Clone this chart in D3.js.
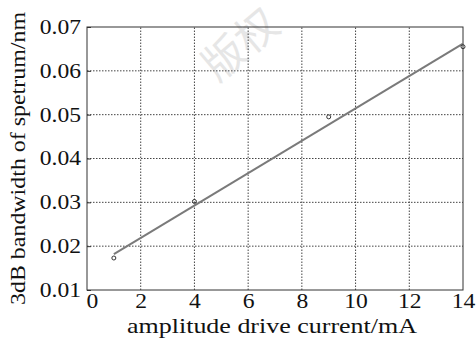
<!DOCTYPE html>
<html>
<head>
<meta charset="utf-8">
<script src="https://cdn.jsdelivr.net/npm/d3@7"></script>
<style>
  html, body { margin: 0; padding: 0; background: #fff; }
  svg { display: block; }
</style>
</head>
<body>
<svg id="chart" width="476" height="338"></svg>
<script>
// measured points
const currents = [1, 4, 9, 14]
const bandwidths = [0.0173, 0.0302, 0.0495, 0.0655]
// linear fit line end points (as drawn)
const fitX = [1, 14]
const fitY = [0.0182, 0.0662]

const xTicks = [0, 2, 4, 6, 8, 10, 12, 14]
const yTicks = [0.01, 0.02, 0.03, 0.04, 0.05, 0.06, 0.07]

const W = 476, H = 338
const margin = { left: 87, right: 13, top: 27, bottom: 48 }
const serif = '"Liberation Serif", serif'
// the source figure is stretched a bit horizontally
const stretch = 1.18

const svg = d3.select('#chart')

// faint watermark behind the plot
svg.append('text')
  .attr('transform', 'translate(250,56) rotate(-40)')
  .attr('text-anchor', 'middle')
  .style('font-family', '"Noto Sans CJK SC", sans-serif')
  .style('font-size', '42px')
  .style('fill', '#e6e6e6')
  .text('版权')

const x = d3.scaleLinear().domain([0, 14]).range([margin.left, W - margin.right])
const y = d3.scaleLinear().domain([0.01, 0.07]).range([H - margin.bottom, margin.top])

const g = svg.append('g')

// grid
g.selectAll('line.vgrid')
  .data(xTicks.slice(1, -1))
  .enter().append('line')
  .attr('class', 'vgrid')
  .attr('x1', d => x(d)).attr('x2', d => x(d))
  .attr('y1', y(0.01)).attr('y2', y(0.07))
  .attr('stroke', '#444')
  .attr('stroke-width', 1)
  .attr('stroke-dasharray', '1.5,1.5')

g.selectAll('line.hgrid')
  .data(yTicks.slice(1, -1))
  .enter().append('line')
  .attr('class', 'hgrid')
  .attr('x1', x(0)).attr('x2', x(14))
  .attr('y1', d => y(d)).attr('y2', d => y(d))
  .attr('stroke', '#444')
  .attr('stroke-width', 1)
  .attr('stroke-dasharray', '1.5,1.5')

// frame
g.append('rect')
  .attr('x', x(0)).attr('y', y(0.07))
  .attr('width', x(14) - x(0)).attr('height', y(0.01) - y(0.07))
  .attr('fill', 'none')
  .attr('stroke', '#333')
  .attr('stroke-width', 1)

function styleTicks(sel) {
  sel.selectAll('text')
    .style('font-family', serif)
    .style('font-size', '20px')
    .style('fill', '#111')
    .each(function () {
      const len = this.getComputedTextLength()
      d3.select(this).attr('textLength', len * stretch).attr('lengthAdjust', 'spacingAndGlyphs')
    })
}

// axes
const xAxis = g.append('g')
  .attr('transform', `translate(0,${y(0.01)})`)
  .call(d3.axisBottom(x).tickValues(xTicks).tickSize(0).tickPadding(4).tickFormat(d3.format('d')))
xAxis.select('.domain').remove()
styleTicks(xAxis)
xAxis.selectAll('.tick').filter(d => d === 0).select('text').attr('dx', 5)

const yAxis = g.append('g')
  .attr('transform', `translate(${x(0)},0)`)
  .call(d3.axisLeft(y).tickValues(yTicks).tickSize(4).tickPadding(2).tickFormat(d3.format('.2f')))
yAxis.select('.domain').remove()
yAxis.selectAll('line').attr('x2', 4).attr('stroke', '#333')
styleTicks(yAxis)

// fit line
g.append('path')
  .datum(fitX.map((v, i) => [v, fitY[i]]))
  .attr('fill', 'none')
  .attr('stroke', '#7a7a7a')
  .attr('stroke-width', 2)
  .attr('d', d3.line().x(d => x(d[0])).y(d => y(d[1])))

// data markers
g.selectAll('circle.pt')
  .data(currents.map((v, i) => [v, bandwidths[i]]))
  .enter().append('circle')
  .attr('class', 'pt')
  .attr('cx', d => x(d[0]))
  .attr('cy', d => y(d[1]))
  .attr('r', 2)
  .attr('fill', 'none')
  .attr('stroke', '#333')
  .attr('stroke-width', 1)

// axis labels
svg.append('text')
  .attr('x', 127)
  .attr('y', 333)
  .attr('textLength', 290)
  .attr('lengthAdjust', 'spacingAndGlyphs')
  .style('font-family', serif)
  .style('font-size', '21px')
  .style('fill', '#111')
  .text('amplitude drive current/mA')

svg.append('text')
  .attr('transform', 'translate(25,305) rotate(-90)')
  .attr('textLength', 293)
  .attr('lengthAdjust', 'spacingAndGlyphs')
  .style('font-family', serif)
  .style('font-size', '22px')
  .style('fill', '#111')
  .text('3dB bandwidth of spetrum/nm')
</script>
</body>
</html>
